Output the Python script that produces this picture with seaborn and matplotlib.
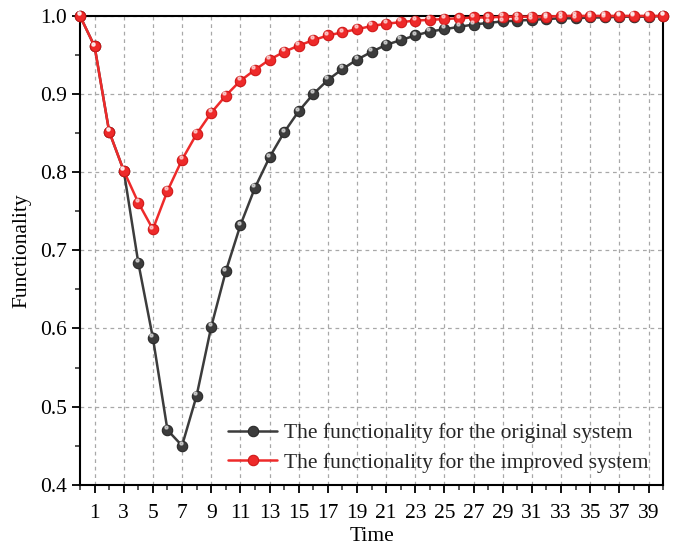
import numpy as np
import pandas as pd
import matplotlib
matplotlib.use("Agg")
import matplotlib.pyplot as plt
from matplotlib.ticker import MultipleLocator
import seaborn as sns

time = list(range(0, 41))
original = [1.000, 0.961, 0.852, 0.802, 0.684, 0.588, 0.470, 0.450, 0.514, 0.602,
            0.673, 0.732, 0.780, 0.819, 0.851, 0.878, 0.900, 0.918, 0.932, 0.944,
            0.954, 0.963, 0.969, 0.975, 0.980, 0.983, 0.986, 0.989, 0.991, 0.993,
            0.994, 0.995, 0.996, 0.997, 0.997, 0.998, 0.998, 0.999, 0.999, 0.999, 1.000]
improved = [1.000, 0.961, 0.852, 0.802, 0.761, 0.727, 0.776, 0.816, 0.849, 0.876,
            0.898, 0.917, 0.931, 0.944, 0.954, 0.962, 0.969, 0.975, 0.979, 0.983,
            0.987, 0.990, 0.992, 0.994, 0.995, 0.996, 0.997, 0.998, 0.998, 0.999,
            0.999, 0.999, 0.999, 1.000, 1.000, 1.000, 1.000, 1.000, 1.000, 1.000, 1.000]
labels = ["The functionality for the original system",
          "The functionality for the improved system"]
xticks = list(range(1, 40, 2))

df = pd.DataFrame({
    "Time": time + time,
    "Functionality": original + improved,
    "Series": [labels[0]] * len(time) + [labels[1]] * len(time),
})

sns.set_theme(style="white")
plt.rcParams['font.family'] = ['Liberation Serif', 'DejaVu Serif']

fig = plt.figure(figsize=(6.78, 5.49), dpi=100)
ax = fig.add_axes([0.118, 0.117, 0.860, 0.854])

colors = {labels[0]: "#3c3c3c", labels[1]: "#ee2a2a"}
edges = {labels[0]: "#2a2a2a", labels[1]: "#d01818"}
for lab in labels:
    sub = df[df["Series"] == lab]
    sns.lineplot(data=sub, x="Time", y="Functionality", ax=ax, color=colors[lab],
                 marker="o", markersize=7.5, markeredgecolor=edges[lab],
                 markeredgewidth=0.8, linewidth=1.8, label=lab, clip_on=False, zorder=3)
    # small highlight to mimic the shaded spheres
    ax.plot(sub["Time"] - 0.1, sub["Functionality"] + 0.0035, linestyle="none",
            marker="o", markersize=2.2, color="white", alpha=0.55, zorder=4, clip_on=False)

ax.set_xlim(0, 40)
ax.set_ylim(0.4, 1.0)
ax.set_xticks(xticks)
ax.set_xticklabels([str(v) for v in xticks])
ax.xaxis.set_minor_locator(MultipleLocator(1))
ax.yaxis.set_major_locator(MultipleLocator(0.1))
ax.yaxis.set_minor_locator(MultipleLocator(0.05))
ax.set_yticklabels([f"{v:.1f}" for v in ax.get_yticks()])

ax.tick_params(axis="both", which="major", direction="out", length=6, width=1.3,
               labelsize=15.5, colors="black", bottom=True, left=True, top=False, right=False)
ax.tick_params(axis="x", which="major", pad=8)
ax.tick_params(axis="both", which="minor", direction="out", length=3.5, width=1.1,
               bottom=True, left=True, top=False, right=False)

ax.grid(True, which="major", linestyle=(0, (3, 3)), color="#a8a8a8", linewidth=0.9)
ax.set_axisbelow(True)
for s in ax.spines.values():
    s.set_color("black")
    s.set_linewidth(1.5)

ax.set_xlabel("Time", fontsize=15.5, color="black", labelpad=3)
ax.set_ylabel("Functionality", fontsize=15.5, color="black", labelpad=6)

leg = ax.legend(loc="lower right", bbox_to_anchor=(0.995, 0.0), frameon=False,
                fontsize=15.5, handlelength=2.3, handletextpad=0.3, borderpad=0.05,
                labelspacing=0.45, numpoints=1)

fig.savefig("out.png", dpi=100)
